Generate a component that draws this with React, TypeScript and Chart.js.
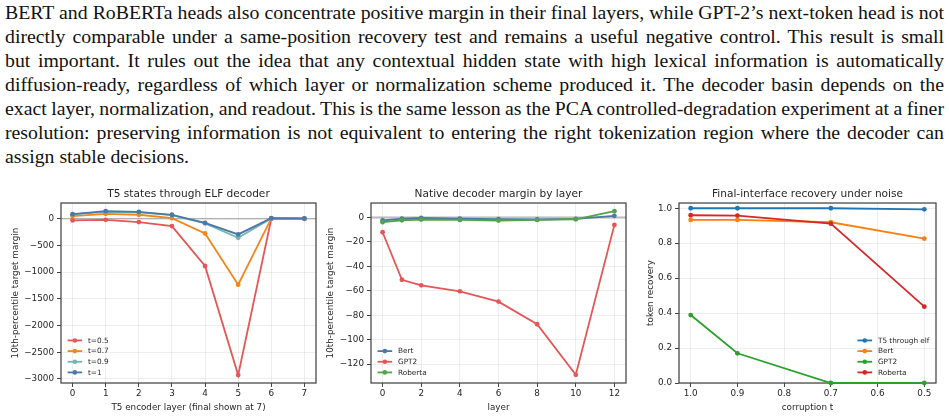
import { useEffect, useRef } from "react";
import { Chart, registerables } from "chart.js";

Chart.register(...registerables);

// ---- paragraph text (one entry per typeset line) ----
const paragraphLines = [
  "BERT and RoBERTa heads also concentrate positive margin in their final layers, while GPT-2\u2019s next-token head is not",
  "directly comparable under a same-position recovery test and remains a useful negative control. This result is small",
  "but important.  It rules out the idea that any contextual hidden state with high lexical information is automatically",
  "diffusion-ready, regardless of which layer or normalization scheme produced it. The decoder basin depends on the",
  "exact layer, normalization, and readout. This is the same lesson as the PCA controlled-degradation experiment at a finer",
  "resolution: preserving information is not equivalent to entering the right tokenization region where the decoder can",
  "assign stable decisions.",
];

// ---- panel 1: T5 states through ELF decoder ----
const t5Layers = [0, 1, 2, 3, 4, 5, 6, 7];
const t5MarginT05 = [-31, -19, -62, -137, -884, -2927, 0, 0];
const t5MarginT07 = [50, 93, 75, 12, -274, -1233, 6, 0];
const t5MarginT09 = [81, 131, 118, 68, -87, -355, 6, 0];
const t5MarginT1 = [87, 143, 131, 75, -75, -293, 12, 6];
const t5XTicks = [0, 1, 2, 3, 4, 5, 6, 7];
const t5YTicks = [0, -500, -1000, -1500, -2000, -2500, -3000];

// ---- panel 2: native decoder margin by layer ----
const nativeLayers = [0, 1, 2, 4, 6, 8, 10, 12];
const bertMargin = [-2.4, -0.8, -0.3, -0.8, -1.4, -1.6, -1.1, 1.4];
const gpt2Margin = [-12, -50.9, -55.5, -60.4, -68.8, -87.3, -128.7, -6];
const robertaMargin = [-3.8, -2.2, -1.6, -1.9, -2.4, -1.9, -1.4, 5.2];
const nativeXTicks = [0, 2, 4, 6, 8, 10, 12];
const nativeYTicks = [0, -20, -40, -60, -80, -100, -120];

// ---- panel 3: final-interface recovery under noise ----
const corruptionT = [1.0, 0.9, 0.7, 0.5];
const t5ElfRecovery = [1.0, 1.0, 1.0, 0.994];
const bertRecovery = [0.933, 0.933, 0.92, 0.826];
const gpt2Recovery = [0.389, 0.17, 0, 0];
const robertaRecovery = [0.96, 0.958, 0.912, 0.437];
const recoveryXTicks = [1.0, 0.9, 0.8, 0.7, 0.6, 0.5];
const recoveryYTicks = [0, 0.2, 0.4, 0.6, 0.8, 1.0];

const FONT = "'DejaVu Sans', sans-serif";
const INK = "#262626";
const GRID = "rgba(0,0,0,0.085)";
const TICK_SIZE = 8.8;
const TITLE_SIZE = 10.6;
const LEGEND_SIZE = 7.3;

type Series = { label: string; xs: number[]; ys: number[]; color: string };

type PanelSpec = {
  box: { left: number; top: number; width: number; height: number };
  title: string;
  xTitle: string;
  yTitle: string;
  series: Series[];
  xRange: [number, number];
  yRange: [number, number];
  xTicks: number[];
  yTicks: number[];
  xReverse?: boolean;
  fmtX: (v: number) => string;
  fmtY: (v: number) => string;
  yAxisWidth: number;
  yTitlePad: number;
  padRight: number;
  legendCorner: "bottom-left" | "bottom-right";
  zeroLine?: { color: string; width: number };
};

const signed = (v: number) => (v < 0 ? "\u2212" + Math.abs(v) : String(v));
const oneDecimal = (v: number) => v.toFixed(1);

const panels: PanelSpec[] = [
  {
    box: { left: 0, top: 183, width: 320, height: 235 },
    title: "T5 states through ELF decoder",
    xTitle: "T5 encoder layer (final shown at 7)",
    yTitle: "10th-percentile target margin",
    series: [
      { label: "t=0.5", xs: t5Layers, ys: t5MarginT05, color: "#e45756" },
      { label: "t=0.7", xs: t5Layers, ys: t5MarginT07, color: "#f58518" },
      { label: "t=0.9", xs: t5Layers, ys: t5MarginT09, color: "#72b7b2" },
      { label: "t=1", xs: t5Layers, ys: t5MarginT1, color: "#4c78a8" },
    ],
    xRange: [-0.35, 7.35],
    yRange: [-3075, 295],
    xTicks: t5XTicks,
    yTicks: t5YTicks,
    fmtX: (v) => String(v),
    fmtY: signed,
    yAxisWidth: 61,
    yTitlePad: 10.7,
    padRight: 3,
    legendCorner: "bottom-left",
    zeroLine: { color: "#8f8f8f", width: 0.9 },
  },
  {
    box: { left: 320, top: 183, width: 310, height: 235 },
    title: "Native decoder margin by layer",
    xTitle: "layer",
    yTitle: "10th-percentile target margin",
    series: [
      { label: "Bert", xs: nativeLayers, ys: bertMargin, color: "#4c78a8" },
      { label: "GPT2", xs: nativeLayers, ys: gpt2Margin, color: "#e45756" },
      { label: "Roberta", xs: nativeLayers, ys: robertaMargin, color: "#54a24b" },
    ],
    xRange: [-0.6, 12.6],
    yRange: [-135.4, 11.9],
    xTicks: nativeXTicks,
    yTicks: nativeYTicks,
    fmtX: (v) => String(v),
    fmtY: signed,
    yAxisWidth: 51,
    yTitlePad: 5.7,
    padRight: 3,
    legendCorner: "bottom-left",
    zeroLine: { color: "rgba(0,0,0,0.2)", width: 2.6 },
  },
  {
    box: { left: 630, top: 183, width: 319, height: 235 },
    title: "Final-interface recovery under noise",
    xTitle: "corruption t",
    yTitle: "token recovery",
    series: [
      { label: "T5 through elf", xs: corruptionT, ys: t5ElfRecovery, color: "#1f77b4" },
      { label: "Bert", xs: corruptionT, ys: bertRecovery, color: "#ff7f0e" },
      { label: "GPT2", xs: corruptionT, ys: gpt2Recovery, color: "#2ca02c" },
      { label: "Roberta", xs: corruptionT, ys: robertaRecovery, color: "#d62728" },
    ],
    xRange: [0.475, 1.025],
    yRange: [0, 1.03],
    xTicks: recoveryXTicks,
    yTicks: recoveryYTicks,
    xReverse: true,
    fmtX: oneDecimal,
    fmtY: oneDecimal,
    yAxisWidth: 49,
    yTitlePad: 15.4,
    padRight: 13,
    legendCorner: "bottom-right",
  },
];

// Frame, zero reference line and an in-axes legend, drawn like a matplotlib axes.
function decorPlugin(spec: PanelSpec) {
  return {
    id: "panelDecor",
    beforeDatasetsDraw(chart: any) {
      const { ctx, chartArea: a, scales } = chart;
      ctx.save();
      if (spec.zeroLine) {
        const y = scales.y.getPixelForValue(0);
        ctx.strokeStyle = spec.zeroLine.color;
        ctx.lineWidth = spec.zeroLine.width;
        ctx.beginPath();
        ctx.moveTo(a.left, y);
        ctx.lineTo(a.right, y);
        ctx.stroke();
      }
      ctx.strokeStyle = "#444";
      ctx.lineWidth = 1.25;
      ctx.strokeRect(a.left, a.top, a.right - a.left, a.bottom - a.top);
      ctx.restore();
    },
    afterDatasetsDraw(chart: any) {
      const { ctx, chartArea: a } = chart;
      const fs = LEGEND_SIZE;
      const handle = 2 * fs;
      const gap = 0.8 * fs;
      const edge = 0.9 * fs;
      const rowH = 1.46 * fs;
      ctx.save();
      ctx.font = `${fs}px ${FONT}`;
      const maxText = Math.max(...spec.series.map((s) => ctx.measureText(s.label).width));
      const x0 =
        spec.legendCorner === "bottom-left"
          ? a.left + edge
          : a.right - edge - maxText - gap - handle;
      const n = spec.series.length;
      const lastY = a.bottom - edge - fs * 0.55;
      spec.series.forEach((s, i) => {
        const y = lastY - (n - 1 - i) * rowH;
        ctx.strokeStyle = s.color;
        ctx.lineWidth = 1.8;
        ctx.beginPath();
        ctx.moveTo(x0, y);
        ctx.lineTo(x0 + handle, y);
        ctx.stroke();
        ctx.fillStyle = s.color;
        ctx.beginPath();
        ctx.arc(x0 + handle / 2, y, 2.3, 0, Math.PI * 2);
        ctx.fill();
        ctx.fillStyle = INK;
        ctx.textBaseline = "middle";
        ctx.textAlign = "left";
        ctx.fillText(s.label, x0 + handle + gap, y + 0.5);
      });
      ctx.restore();
    },
  };
}

function buildConfig(spec: PanelSpec): any {
  const tickFont = { family: FONT, size: TICK_SIZE };
  return {
    type: "line",
    data: {
      datasets: spec.series.map((s, i) => ({
        label: s.label,
        data: s.xs.map((x, j) => ({ x, y: s.ys[j] })),
        borderColor: s.color,
        backgroundColor: s.color,
        pointBackgroundColor: s.color,
        pointBorderWidth: 0,
        pointRadius: 2.4,
        borderWidth: 1.8,
        tension: 0,
        clip: false,
        order: -i,
      })),
    },
    options: {
      animation: false,
      responsive: false,
      devicePixelRatio: 1,
      events: [],
      layout: { padding: { left: 0, right: spec.padRight, top: 0, bottom: 0 } },
      plugins: {
        legend: { display: false },
        tooltip: { enabled: false },
        title: {
          display: true,
          fullSize: false,
          text: spec.title,
          color: INK,
          font: { family: FONT, size: TITLE_SIZE, weight: "normal" },
          padding: { top: 4.9, bottom: 2.4 },
        },
      },
      scales: {
        x: {
          type: "linear",
          min: spec.xRange[0],
          max: spec.xRange[1],
          reverse: !!spec.xReverse,
          afterBuildTicks: (s: any) => {
            s.ticks = spec.xTicks.map((v) => ({ value: v }));
          },
          afterFit: (s: any) => {
            s.height = 35;
          },
          ticks: {
            callback: (v: number) => spec.fmtX(v),
            font: tickFont,
            color: INK,
            padding: 1.5,
            maxRotation: 0,
            autoSkip: false,
          },
          grid: { color: GRID, lineWidth: 0.8, tickColor: "#444", tickLength: 4, tickWidth: 1 },
          border: { display: false },
          title: {
            display: true,
            text: spec.xTitle,
            color: INK,
            font: tickFont,
            padding: { top: 0, bottom: 5 },
          },
        },
        y: {
          type: "linear",
          min: spec.yRange[0],
          max: spec.yRange[1],
          afterBuildTicks: (s: any) => {
            s.ticks = spec.yTicks.map((v) => ({ value: v }));
          },
          afterFit: (s: any) => {
            s.width = spec.yAxisWidth;
          },
          ticks: {
            callback: (v: number) => spec.fmtY(v),
            font: tickFont,
            color: INK,
            padding: 3,
            autoSkip: false,
          },
          grid: { color: GRID, lineWidth: 0.8, tickColor: "#444", tickLength: 4, tickWidth: 1 },
          border: { display: false },
          title: {
            display: true,
            text: spec.yTitle,
            color: INK,
            font: tickFont,
            padding: { top: spec.yTitlePad, bottom: 0 },
          },
        },
      },
    },
    plugins: [decorPlugin(spec)],
  };
}

function Panel({ spec }: { spec: PanelSpec }) {
  const ref = useRef<HTMLCanvasElement>(null);
  useEffect(() => {
    const chart = new Chart(ref.current as HTMLCanvasElement, buildConfig(spec));
    return () => chart.destroy();
  }, [spec]);
  const { left, top, width, height } = spec.box;
  return (
    <canvas
      ref={ref}
      width={width}
      height={height}
      style={{ position: "absolute", left, top, width, height }}
    />
  );
}

export default function App() {
  return (
    <div
      style={{
        position: "absolute",
        left: 0,
        top: 0,
        width: 949,
        height: 418,
        background: "#fff",
        overflow: "hidden",
      }}
    >
      <div
        style={{
          position: "absolute",
          left: 5,
          top: 0,
          width: 939,
          fontFamily: "'Liberation Serif', 'Times New Roman', serif",
          fontSize: 19.8,
          lineHeight: "24px",
          color: "#111",
        }}
      >
        {paragraphLines.map((line, i) => {
          const last = i === paragraphLines.length - 1;
          return (
            <div
              key={i}
              style={{
                height: 24,
                whiteSpace: "nowrap",
                wordSpacing: last ? 0 : -2.5,
                textAlign: "justify",
                textAlignLast: last ? "left" : "justify",
              }}
            >
              {line}
            </div>
          );
        })}
      </div>
      {panels.map((p, i) => (
        <Panel key={i} spec={p} />
      ))}
    </div>
  );
}
